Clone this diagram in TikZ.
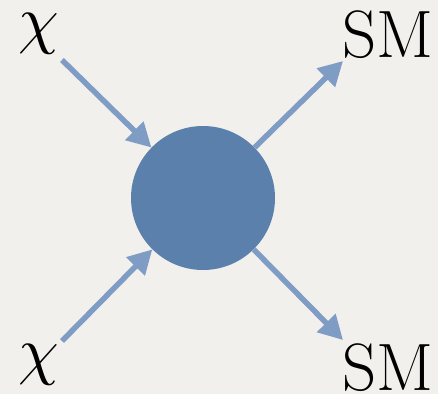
\documentclass[tikz,border=0pt]{standalone}
\usetikzlibrary{arrows.meta}
\definecolor{paper}{HTML}{F1F0EC}
\definecolor{blobfill}{HTML}{5B80AC}
\definecolor{legcol}{HTML}{7F9CC4}
\begin{document}
\begin{tikzpicture}[x=1pt,y=-1pt,
  lbl/.style={inner sep=0pt,anchor=base west,font=\fontsize{67}{72}\selectfont},
  chilbl/.style={inner sep=0pt,anchor=base west,font=\fontsize{10}{12}\selectfont,scale=6.5},
  leg/.style={draw=legcol,line width=5.5pt,-{Triangle[length=24pt,width=25pt]}},
  blob/.style={circle,fill=blobfill,minimum size=144pt,inner sep=0pt}]
  % canvas
  \fill[paper] (0,0) rectangle (438,394);
  \useasboundingbox (0,0) rectangle (438,394);
  % labels of the external legs
  \node[chilbl] (chiA) at (17,41) {$\chi$};
  \node[chilbl] (chiB) at (17,372) {$\chi$};
  \node[lbl] (smA) at (342,57) {SM};
  \node[lbl] (smB) at (342,390) {SM};
  % interaction blob
  \node[blob] (v) at (203,198) {};
  % leg end points next to the labels
  \coordinate (pA) at (62,60);
  \coordinate (pB) at (62,341);
  \coordinate (qA) at (343,61);
  \coordinate (qB) at (343,340);
  % legs
  \draw[leg] (pA) -- (v);
  \draw[leg] (pB) -- (v);
  \draw[leg] (v) -- (qA);
  \draw[leg] (v) -- (qB);
\end{tikzpicture}
\end{document}
